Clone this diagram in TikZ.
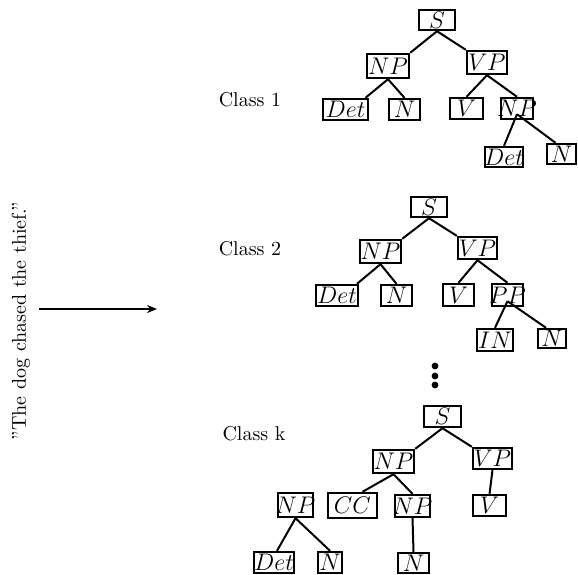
\documentclass[tikz,border=0pt]{standalone}
\usetikzlibrary{arrows.meta}
\newcommand{\bxlab}[1]{\makebox[0pt]{$#1$}}
\begin{document}
\begin{tikzpicture}[x=0.5pt,y=-0.5pt,
  tbox/.style={draw, line width=1.2pt, inner sep=0pt, font=\fontsize{11.5}{13}\selectfont},
  edge/.style={line width=1pt},
  lbl/.style={inner sep=0pt},
  dotn/.style={circle, fill, inner sep=0pt, minimum size=3.4pt}]
\useasboundingbox (0,0) rectangle (578,574);
% labels
\node[lbl, rotate=90] (sent) at (21,321) {''The dog chased the thief.''};
\coordinate (a0) at (39,309);
\coordinate (a1) at (157,309);
\draw[line width=0.9pt, -{Stealth[length=5pt,width=4pt]}] (a0) -- (a1);
\node[lbl] (c1) at (250,100) {Class 1};
\node[lbl] (c2) at (250,249) {Class 2};
\node[lbl] (ck) at (254,434) {Class k};
% Class 1 tree
\node[tbox, minimum width=18pt, minimum height=10pt] (S1) at (437,20) {\bxlab{S}};
\node[tbox, minimum width=21pt, minimum height=12pt] (NP1) at (388,66) {\bxlab{NP}};
\node[tbox, minimum width=20pt, minimum height=11.5pt] (VP1) at (487,62.5) {\bxlab{VP}};
\node[tbox, minimum width=22.5pt, minimum height=10.5pt] (Det1) at (345.5,109.5) {\bxlab{Det}};
\node[tbox, minimum width=15.5pt, minimum height=10.5pt] (N1) at (404.5,109.5) {\bxlab{N}};
\node[tbox, minimum width=16.5pt, minimum height=10.5pt] (V1) at (466.5,108.5) {\bxlab{V}};
\node[tbox, minimum width=16pt, minimum height=10.5pt] (NPb1) at (517,108.5) {\bxlab{NP}};
\node[tbox, minimum width=19pt, minimum height=10pt] (Detb1) at (504,157) {\bxlab{Det}};
\node[tbox, minimum width=14.5pt, minimum height=10pt] (Nb1) at (561.5,154) {\bxlab{N}};
\draw[edge] (S1.south) -- (NP1.north east);
\draw[edge] (S1.south) -- (VP1.north west);
\draw[edge] (NP1.south) -- ([xshift=10pt]Det1.north);
\draw[edge] (NP1.south) -- (N1.north);
\draw[edge] (VP1.south) -- (V1.north);
\draw[edge] (VP1.south) -- (NPb1.north);
\draw[edge] ([yshift=3pt]NPb1.south) -- (Detb1.north);
\draw[edge] ([yshift=3pt]NPb1.south) -- ([xshift=-3pt]Nb1.north);
% Class 2 tree
\node[tbox, minimum width=18pt, minimum height=10pt] (S2) at (429,207) {\bxlab{S}};
\node[tbox, minimum width=20.5pt, minimum height=11.5pt] (NP2) at (380.5,251.5) {\bxlab{NP}};
\node[tbox, minimum width=19.5pt, minimum height=11pt] (VP2) at (477.5,248) {\bxlab{VP}};
\node[tbox, minimum width=21pt, minimum height=10.5pt] (Det2) at (337,295.5) {\bxlab{Det}};
\node[tbox, minimum width=15.5pt, minimum height=10.5pt] (N2) at (396.5,295.5) {\bxlab{N}};
\node[tbox, minimum width=15.5pt, minimum height=11pt] (V2) at (458.5,295) {\bxlab{V}};
\node[tbox, minimum width=15.5pt, minimum height=11pt] (PP2) at (507.5,295) {\bxlab{PP}};
\node[tbox, minimum width=18pt, minimum height=11pt] (IN2) at (495,340) {\bxlab{IN}};
\node[tbox, minimum width=14pt, minimum height=9.5pt] (Nb2) at (552,338.5) {\bxlab{N}};
\draw[edge] (S2.south) -- (NP2.north east);
\draw[edge] (S2.south) -- (VP2.north west);
\draw[edge] (NP2.south) -- ([xshift=10pt]Det2.north);
\draw[edge] (NP2.south) -- (N2.north);
\draw[edge] (VP2.south) -- (V2.north);
\draw[edge] (VP2.south) -- (PP2.north);
\draw[edge] ([yshift=3pt]PP2.south) -- (IN2.north);
\draw[edge] ([yshift=3pt]PP2.south) -- ([xshift=-3pt]Nb2.north);
% dots
\node[dotn] (d1) at (435,366) {};
\node[dotn] (d2) at (435,376) {};
\node[dotn] (d3) at (435,385) {};
% Class k tree
\node[tbox, minimum width=18.5pt, minimum height=10.5pt] (Sk) at (442.5,416.5) {\bxlab{S}};
\node[tbox, minimum width=20.5pt, minimum height=11.5pt] (NPk) at (393.5,461.5) {\bxlab{NP}};
\node[tbox, minimum width=19.5pt, minimum height=10.5pt] (VPk) at (492.5,458.5) {\bxlab{VP}};
\node[tbox, minimum width=17.5pt, minimum height=12pt] (NPl) at (295.5,505) {\bxlab{NP}};
\node[tbox, minimum width=24.5pt, minimum height=12.5pt] (CCk) at (352.5,505.5) {\bxlab{CC}};
\node[tbox, minimum width=17.5pt, minimum height=11pt] (NPm) at (412.5,506) {\bxlab{NP}};
\node[tbox, minimum width=16.5pt, minimum height=10.5pt] (Vk) at (489.5,505.5) {\bxlab{V}};
\node[tbox, minimum width=20pt, minimum height=10.5pt] (Detk) at (274,562.5) {\bxlab{Det}};
\node[tbox, minimum width=12pt, minimum height=10.5pt] (Nl) at (330,562.5) {\bxlab{N}};
\node[tbox, minimum width=15.5pt, minimum height=10pt] (Nm) at (413.5,563) {\bxlab{N}};
\draw[edge] (Sk.south) -- (NPk.north east);
\draw[edge] (Sk.south) -- (VPk.north west);
\draw[edge] (NPk.south) -- ([xshift=5pt]CCk.north);
\draw[edge] (NPk.south) -- (NPm.north);
\draw[edge] (VPk.south) -- (Vk.north);
\draw[edge] (NPl.south) -- ([xshift=1.5pt]Detk.north);
\draw[edge] (NPl.south) -- (Nl.north);
\draw[edge] (NPm.south) -- (Nm.north);
\end{tikzpicture}
\end{document}
